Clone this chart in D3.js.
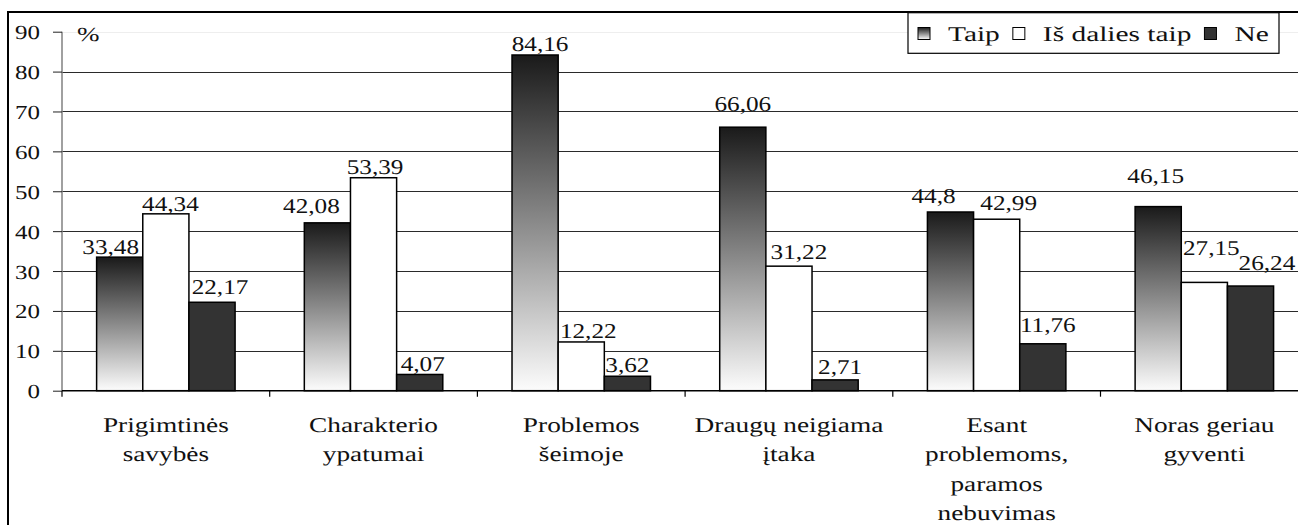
<!DOCTYPE html>
<html><head><meta charset="utf-8">
<script src="https://cdn.jsdelivr.net/npm/d3@7"></script>
<style>
html,body{margin:0;padding:0;background:#fff;}
svg{display:block;}
text{font-family:"Liberation Serif","Times New Roman",serif;fill:#111;text-rendering:geometricPrecision;}
</style></head>
<body>
<svg id="chart" width="1298" height="525"></svg>
<script>
// ---- data ----
const categories = ["Prigimtinės\nsavybės", "Charakterio\nypatumai", "Problemos\nšeimoje", "Draugų neigiama\nįtaka", "Esant\nproblemoms,\nparamos\nnebuvimas", "Noras geriau\ngyventi"];
const seriesNames = ["Taip", "Iš dalies taip", "Ne"];
const taip = [33.48, 42.08, 84.16, 66.06, 44.8, 46.15];
const isDalies = [44.34, 53.39, 12.22, 31.22, 42.99, 27.15];
const ne = [22.17, 4.07, 3.62, 2.71, 11.76, 26.24];
const yTicks = [0, 10, 20, 30, 40, 50, 60, 70, 80, 90];
const yUnit = "%";

// ---- layout / style ----
const seriesValues = [taip, isDalies, ne];
const fills = ["url(#gradTaip)", "#ffffff", "#333333"];
// label nudges relative to bar centre / bar top (dx, baseline dy)
const labelNudge = [
  [[-9,-3],[-16,-10],[5,-4],[0,-16],[-17,-9],[-2.5,-24]],
  [[4.6,-3],[1.5,-4],[7,-4],[10,-7],[12,-9],[7,-27]],
  [[8,-8],[3,-3],[0,-4],[5,-6],[5,-12],[16.4,-16]]
];
const fmt = v => String(v).replace(".", ",");

const svg = d3.select("#chart");
const defs = svg.append("defs");
const g1 = defs.append("linearGradient").attr("id","gradTaip").attr("x1",0).attr("y1",0).attr("x2",0).attr("y2",1);
g1.append("stop").attr("offset","0%").attr("stop-color","#1a1a1a");
g1.append("stop").attr("offset","50%").attr("stop-color","#8a8a8a");
g1.append("stop").attr("offset","100%").attr("stop-color","#fcfcfc");

// outer frame (extends beyond image, as in the reference)
svg.append("rect").attr("x",8).attr("y",12).attr("width",1400).attr("height",600)
  .attr("fill","#fff").attr("stroke","#000").attr("stroke-width",2);

const left = 62, groupW = 207.7;
const x0 = d3.scaleBand().domain(categories).range([left, left + groupW*categories.length]).padding(0);
const bw = x0.bandwidth()/4.5;
const x1 = d3.scaleBand().domain(seriesNames).range([bw*0.75, x0.bandwidth() - bw*0.75]).padding(0);
const y = d3.scaleLinear().domain([0,90]).range([390.7, 31.7]);

function stext(parent, x, yy, str, size, sx, anchor){
  return parent.append("text")
    .attr("transform", `translate(${x},${yy}) scale(${sx},1)`)
    .attr("text-anchor", anchor)
    .style("font-size", size + "px")
    .text(str);
}

// gridlines
svg.append("g").selectAll("line").data(yTicks.filter(d => d > 0)).join("line")
  .attr("x1", left).attr("x2", 1300)
  .attr("y1", d => Math.round(y(d)) + 0.5).attr("y2", d => Math.round(y(d)) + 0.5)
  .attr("stroke", d => d === 90 ? "#eeeeee" : "#2a2a2a").attr("stroke-width", 1);

// bars
seriesNames.forEach((s, si) => {
  svg.append("g").selectAll("rect").data(categories).join("rect")
    .attr("x", c => x0(c) + x1(s))
    .attr("y", (c, i) => y(seriesValues[si][i]))
    .attr("width", x1.bandwidth())
    .attr("height", (c, i) => y(0) - y(seriesValues[si][i]))
    .attr("fill", fills[si])
    .attr("stroke", "#000").attr("stroke-width", 1.5);
});

// y axis
const yAxis = svg.append("g").attr("transform", `translate(${left},0)`)
  .call(d3.axisLeft(y).tickValues(yTicks).tickSize(9).tickFormat(d3.format("d")));
yAxis.attr("font-family", null).attr("font-size", null);
yAxis.select(".domain").attr("stroke", "#808080").attr("stroke-width", 1.5).attr("d", `M0,${y(90)}V${y(0)}`);
yAxis.selectAll(".tick line").attr("stroke", "#222");
yAxis.selectAll(".tick text")
  .attr("x", 0).attr("dy", null).attr("fill", "#111")
  .attr("transform", "translate(-22,7) scale(1.25,1)")
  .style("font-size", "20px");

// x axis line + separators
svg.append("line").attr("x1", left).attr("x2", 1300).attr("y1", y(0)).attr("y2", y(0))
  .attr("stroke", "#000").attr("stroke-width", 1.5);
const bounds = categories.map(c => x0(c)).concat([x0.range()[1]]);
svg.append("g").selectAll("line").data(bounds).join("line")
  .attr("x1", d => d).attr("x2", d => d).attr("y1", y(0)).attr("y2", y(0) + 6)
  .attr("stroke", "#000").attr("stroke-width", 1.2);

// percent sign
stext(svg, 77, 41, yUnit, 20, 1.35, "start");

// value labels
seriesNames.forEach((s, si) => {
  categories.forEach((c, i) => {
    const v = seriesValues[si][i];
    const [dx, dy] = labelNudge[si][i];
    stext(svg, x0(c) + x1(s) + x1.bandwidth()/2 + dx, y(v) + dy, fmt(v), 21, 1.2, "middle");
  });
});

// category labels
categories.forEach(c => {
  c.split("\n").forEach((line, li) => {
    stext(svg, x0(c) + x0.bandwidth()/2, 432 + li*29.3, line, 21, 1.3, "middle");
  });
});

// legend
const lg = svg.append("g");
lg.append("rect").attr("x", 908).attr("y", 12.7).attr("width", 371).attr("height", 40.6)
  .attr("fill", "#fff").attr("stroke", "#000").attr("stroke-width", 1.2);
let lx = 918;
seriesNames.forEach((s, si) => {
  lg.append("rect").attr("x", lx).attr("y", 27.5).attr("width", 12).attr("height", 12)
    .attr("fill", fills[si]).attr("stroke", "#000").attr("stroke-width", 1);
  const t = stext(lg, lx + 30, 41, s, 21, 1.4, "start");
  const w = t.node().getComputedTextLength() * 1.4;
  lx = lx + 30 + w + 13;
});
</script>
</body></html>
